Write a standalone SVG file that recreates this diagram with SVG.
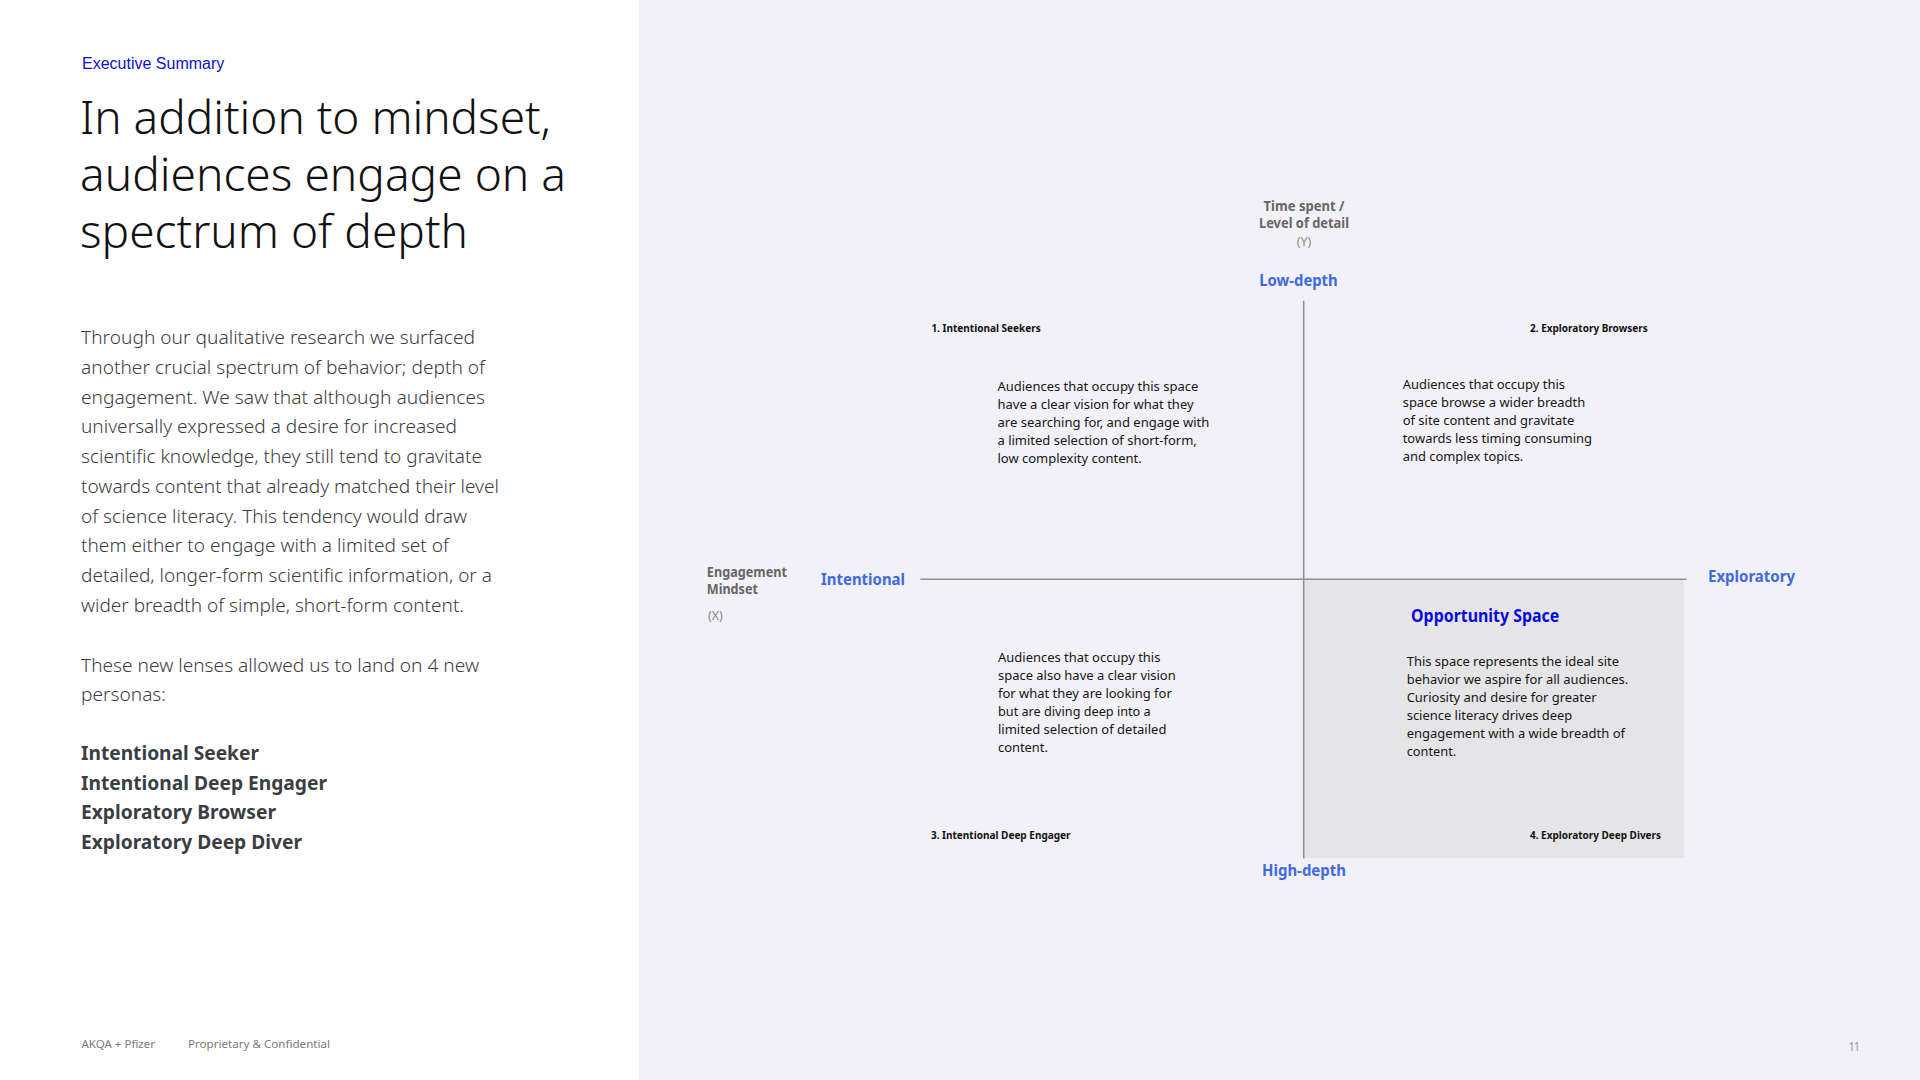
<svg xmlns="http://www.w3.org/2000/svg" width="1920" height="1080" viewBox="0 0 1920 1080">
<style>
text { font-family: "Noto Sans", "Open Sans", sans-serif; }
.eyebrow { font-family: "Liberation Sans", Arial, sans-serif; font-size: 16px; fill: #0f0fcc; }
.title { font-size: 46px; font-weight: 300; fill: #111111; }
.body { font-size: 19px; font-weight: 300; fill: #3c3c3c; }
.persona { font-size: 19px; font-weight: 700; fill: #3a3e42; }
.foot { font-size: 11px; fill: #7a7a7a; }
.axisname { font-size: 13.5px; font-weight: 700; fill: #666666; }
.axisvar { font-size: 12.5px; fill: #888888; }
.pole { font-size: 16.5px; font-weight: 700; fill: #4169e1; }
.qtitle { font-size: 10.5px; font-weight: 700; fill: #111111; }
.para { font-size: 13px; fill: #151515; }
.opp { font-size: 17.5px; font-weight: 700; fill: #0a0adc; }
.axis { stroke: #8f8f8f; stroke-width: 1.5; fill: none; }
</style>
<rect x="0" y="0" width="1920" height="1080" fill="#ffffff"/>
<rect id="right-panel" x="639" y="0" width="1281" height="1080" fill="#f2f1f7"/>

<g id="left-copy">
  <text class="eyebrow" x="82" y="69">Executive Summary</text>
  <text class="title" x="80" y="134" textLength="471" lengthAdjust="spacingAndGlyphs">In addition to mindset,</text>
  <text class="title" x="80" y="191" textLength="486" lengthAdjust="spacingAndGlyphs">audiences engage on a</text>
  <text class="title" x="80" y="248" textLength="388" lengthAdjust="spacingAndGlyphs">spectrum of depth</text>

  <text class="body" x="81" y="344.3" textLength="394" lengthAdjust="spacingAndGlyphs">Through our qualitative research we surfaced</text>
  <text class="body" x="81" y="374" textLength="404" lengthAdjust="spacingAndGlyphs">another crucial spectrum of behavior; depth of</text>
  <text class="body" x="81" y="403.7" textLength="404" lengthAdjust="spacingAndGlyphs">engagement. We saw that although audiences</text>
  <text class="body" x="81" y="433.4" textLength="376" lengthAdjust="spacingAndGlyphs">universally expressed a desire for increased</text>
  <text class="body" x="81" y="463.1" textLength="401" lengthAdjust="spacingAndGlyphs">scientific knowledge, they still tend to gravitate</text>
  <text class="body" x="81" y="492.8" textLength="418" lengthAdjust="spacingAndGlyphs">towards content that already matched their level</text>
  <text class="body" x="81" y="522.5" textLength="386" lengthAdjust="spacingAndGlyphs">of science literacy. This tendency would draw</text>
  <text class="body" x="81" y="552.2" textLength="368" lengthAdjust="spacingAndGlyphs">them either to engage with a limited set of</text>
  <text class="body" x="81" y="581.9" textLength="411" lengthAdjust="spacingAndGlyphs">detailed, longer-form scientific information, or a</text>
  <text class="body" x="81" y="611.6" textLength="383" lengthAdjust="spacingAndGlyphs">wider breadth of simple, short-form content.</text>

  <text class="body" x="81" y="671.5" textLength="398" lengthAdjust="spacingAndGlyphs">These new lenses allowed us to land on 4 new</text>
  <text class="body" x="81" y="701" textLength="85" lengthAdjust="spacingAndGlyphs">personas:</text>

  <text class="persona" x="81" y="760" textLength="178" lengthAdjust="spacingAndGlyphs">Intentional Seeker</text>
  <text class="persona" x="81" y="789.5" textLength="246" lengthAdjust="spacingAndGlyphs">Intentional Deep Engager</text>
  <text class="persona" x="81" y="819" textLength="195" lengthAdjust="spacingAndGlyphs">Exploratory Browser</text>
  <text class="persona" x="81" y="848.5" textLength="221" lengthAdjust="spacingAndGlyphs">Exploratory Deep Diver</text>
</g>

<g id="footer">
  <text class="foot" x="81.5" y="1048.3" textLength="73.5" lengthAdjust="spacingAndGlyphs">AKQA + Pfizer</text>
  <text class="foot" x="188" y="1048.3" textLength="142" lengthAdjust="spacingAndGlyphs">Proprietary &amp; Confidential</text>
  <text class="foot" x="1849" y="1050.5" textLength="10.5" lengthAdjust="spacingAndGlyphs" style="fill:#8a8a8a;font-size:12px">11</text>
</g>

<rect id="opportunity-area" x="1304" y="579.5" width="380" height="278.5" fill="#e5e5e8"/>

<g id="connectors">
  <line id="y-axis" class="axis" x1="1303.7" y1="300.7" x2="1303.7" y2="858.5"/>
  <line id="x-axis" class="axis" x1="920.4" y1="579.3" x2="1686.7" y2="579.3"/>
</g>

<g id="y-axis-label">
  <text class="axisname" x="1304" y="210.7" text-anchor="middle" textLength="81" lengthAdjust="spacingAndGlyphs">Time spent /</text>
  <text class="axisname" x="1304" y="228.3" text-anchor="middle" textLength="90" lengthAdjust="spacingAndGlyphs">Level of detail</text>
  <text class="axisvar" x="1304" y="245.5" text-anchor="middle" textLength="14.5" lengthAdjust="spacingAndGlyphs">(Y)</text>
</g>

<g id="x-axis-label">
  <text class="axisname" x="706.8" y="576.7" textLength="80.2" lengthAdjust="spacingAndGlyphs">Engagement</text>
  <text class="axisname" x="706.8" y="594.3" textLength="51.1" lengthAdjust="spacingAndGlyphs">Mindset</text>
  <text class="axisvar" x="707.9" y="619.5" textLength="15" lengthAdjust="spacingAndGlyphs">(X)</text>
</g>

<g id="pole-low-depth"><text class="pole" x="1259.3" y="285.7" textLength="78.4" lengthAdjust="spacingAndGlyphs">Low-depth</text></g>
<g id="pole-high-depth"><text class="pole" x="1262" y="876" textLength="84" lengthAdjust="spacingAndGlyphs">High-depth</text></g>
<g id="pole-intentional"><text class="pole" x="821" y="585" textLength="84" lengthAdjust="spacingAndGlyphs">Intentional</text></g>
<g id="pole-exploratory"><text class="pole" x="1708" y="581.7" textLength="87" lengthAdjust="spacingAndGlyphs">Exploratory</text></g>

<g id="q1-intentional-seekers">
  <text class="qtitle" x="931.4" y="331.7" textLength="109.3" lengthAdjust="spacingAndGlyphs">1. Intentional Seekers</text>
  <text class="para" x="997.5" y="391" textLength="200.7" lengthAdjust="spacingAndGlyphs">Audiences that occupy this space</text>
  <text class="para" x="997.5" y="409" textLength="196.1" lengthAdjust="spacingAndGlyphs">have a clear vision for what they</text>
  <text class="para" x="997.5" y="427" textLength="211.8" lengthAdjust="spacingAndGlyphs">are searching for, and engage with</text>
  <text class="para" x="997.5" y="445" textLength="199.3" lengthAdjust="spacingAndGlyphs">a limited selection of short-form,</text>
  <text class="para" x="997.5" y="463" textLength="144.3" lengthAdjust="spacingAndGlyphs">low complexity content.</text>
</g>

<g id="q2-exploratory-browsers">
  <text class="qtitle" x="1530" y="331.7" textLength="117.7" lengthAdjust="spacingAndGlyphs">2. Exploratory Browsers</text>
  <text class="para" x="1402.7" y="389.3" textLength="162.3" lengthAdjust="spacingAndGlyphs">Audiences that occupy this</text>
  <text class="para" x="1402.7" y="407.3" textLength="182.6" lengthAdjust="spacingAndGlyphs">space browse a wider breadth</text>
  <text class="para" x="1402.7" y="425.3" textLength="171.6" lengthAdjust="spacingAndGlyphs">of site content and gravitate</text>
  <text class="para" x="1402.7" y="443.3" textLength="189.3" lengthAdjust="spacingAndGlyphs">towards less timing consuming</text>
  <text class="para" x="1402.7" y="461.3" textLength="120.6" lengthAdjust="spacingAndGlyphs">and complex topics.</text>
</g>

<g id="q3-intentional-deep-engager">
  <text class="para" x="998" y="661.7" textLength="162.4" lengthAdjust="spacingAndGlyphs">Audiences that occupy this</text>
  <text class="para" x="998" y="679.7" textLength="177.7" lengthAdjust="spacingAndGlyphs">space also have a clear vision</text>
  <text class="para" x="998" y="697.7" textLength="173.8" lengthAdjust="spacingAndGlyphs">for what they are looking for</text>
  <text class="para" x="998" y="715.7" textLength="152.7" lengthAdjust="spacingAndGlyphs">but are diving deep into a</text>
  <text class="para" x="998" y="733.7" textLength="168.4" lengthAdjust="spacingAndGlyphs">limited selection of detailed</text>
  <text class="para" x="998" y="751.7" textLength="49.9" lengthAdjust="spacingAndGlyphs">content.</text>
  <text class="qtitle" x="930.9" y="839.3" textLength="139.7" lengthAdjust="spacingAndGlyphs">3. Intentional Deep Engager</text>
</g>

<g id="q4-opportunity-space">
  <text class="opp" x="1411" y="621.7" textLength="148.3" lengthAdjust="spacingAndGlyphs">Opportunity Space</text>
  <text class="para" x="1406.7" y="666" textLength="212.3" lengthAdjust="spacingAndGlyphs">This space represents the ideal site</text>
  <text class="para" x="1406.7" y="684" textLength="221.6" lengthAdjust="spacingAndGlyphs">behavior we aspire for all audiences.</text>
  <text class="para" x="1406.7" y="702" textLength="190" lengthAdjust="spacingAndGlyphs">Curiosity and desire for greater</text>
  <text class="para" x="1406.7" y="720" textLength="165.6" lengthAdjust="spacingAndGlyphs">science literacy drives deep</text>
  <text class="para" x="1406.7" y="738" textLength="218.3" lengthAdjust="spacingAndGlyphs">engagement with a wide breadth of</text>
  <text class="para" x="1406.7" y="756" textLength="49.6" lengthAdjust="spacingAndGlyphs">content.</text>
  <text class="qtitle" x="1530" y="839.3" textLength="131" lengthAdjust="spacingAndGlyphs">4. Exploratory Deep Divers</text>
</g>
</svg>
